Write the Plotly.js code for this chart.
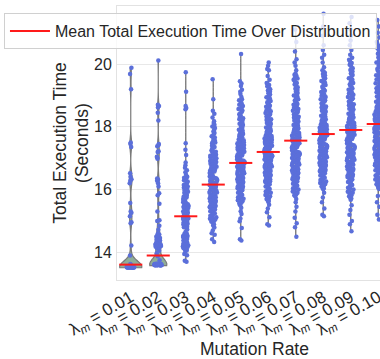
<!DOCTYPE html>
<html><head><meta charset="utf-8">
<script src="https://cdn.plot.ly/plotly-3.0.1.min.js"></script>
<style>html,body{margin:0;padding:0;overflow:hidden;background:#fff;width:380px;height:359px}</style>
</head><body><div id="chart" style="width:393px;height:359px"></div>
<script>
const categories = ['0.01','0.02','0.03','0.04','0.05','0.06','0.07','0.08','0.09','0.10'];
const tickLabels = categories.map(c => 'λ<sub><i>m</i></sub> = ' + c);
const meanTimes = [13.61, 13.90, 15.15, 16.16, 16.85, 17.20, 17.56, 17.77, 17.90, 18.09];

const t001 = [13.52,13.53,13.51,13.54,13.53,13.52,13.55,13.53,13.54,13.52,13.56,13.53,13.54,13.52,13.53,13.55,13.54,13.53,13.52,13.57,13.53,13.54,13.55,13.52,13.53,13.54,13.56,13.53,13.52,13.54,13.55,13.53,13.58,13.6,13.63,13.9,14.22,14.93,14.96,15.15,15.26,15.3,15.57,16.2,16.28,16.33,16.41,16.52,17.36,17.46,17.5,19.2,19.68,19.88];
const t002 = [13.6,13.61,13.59,13.62,13.6,13.63,13.61,13.6,13.62,13.59,13.61,13.64,13.6,13.62,13.61,13.6,13.63,13.58,13.61,13.62,13.6,13.61,13.62,13.59,13.6,13.63,13.61,13.62,13.6,13.61,13.59,13.62,13.6,13.61,13.63,13.6,13.62,13.61,13.6,13.62,13.64,13.61,13.6,13.62,13.61,13.75,13.88,13.97,14.05,14.12,14.15,14.14,14.18,14.2,14.22,14.25,14.24,14.28,14.3,14.33,14.35,14.38,14.4,14.42,14.46,14.5,14.53,14.57,14.6,14.72,14.85,15.0,15.02,15.3,15.55,15.82,15.88,16.1,16.2,16.28,16.32,16.35,16.98,17.02,17.05,17.2,17.22,17.38,17.42,17.45,18.2,18.45,18.62,18.66,18.7,20.11];
const t003 = [13.7,13.73,13.91,13.95,14.04,14.07,14.11,14.13,14.16,14.19,14.21,14.25,14.27,14.3,14.32,14.36,14.39,14.4,14.43,14.47,14.49,14.52,14.56,14.58,14.6,14.65,14.73,14.8,14.82,14.87,14.89,14.91,14.95,14.98,15.01,15.04,15.06,15.1,15.12,15.15,15.19,15.21,15.24,15.28,15.3,15.34,15.37,15.39,15.43,15.45,15.49,15.52,15.55,15.6,15.62,15.66,15.7,15.73,15.77,15.8,15.85,15.89,15.93,15.97,16.02,16.06,16.1,16.15,16.19,16.24,16.3,16.35,16.41,16.47,16.55,16.62,16.7,16.78,16.86,17.1,17.27,17.48,18.56,18.6,18.66,19.12,19.74,
  14.06,14.1,14.14,14.18,14.23,14.28,14.34,14.38,14.45,14.5,14.54,14.59,14.84,14.9,14.94,15.0,15.08,15.13,15.17,15.23,15.27,15.32,15.41,15.47,15.53,15.58,15.64,15.68,15.75,15.83,15.91,15.99,16.08,16.17,16.26,16.38];
const t004 = [14.33,14.42,14.56,14.61,14.7,14.79,14.86,14.9,14.95,14.98,15.03,15.07,15.1,15.14,15.17,15.2,15.24,15.27,15.31,15.33,15.37,15.4,15.44,15.47,15.5,15.53,15.57,15.6,15.63,15.66,15.7,15.72,15.76,15.79,15.82,15.86,15.88,15.92,15.95,15.99,16.02,16.05,16.09,16.12,16.15,16.19,16.22,16.26,16.29,16.33,16.36,16.4,16.44,16.47,16.51,16.55,16.6,16.64,16.68,16.73,16.78,16.82,16.88,16.93,16.99,17.05,17.11,17.18,17.25,17.32,17.4,17.48,17.57,17.66,17.75,17.85,17.96,18.07,18.18,18.3,18.42,18.51,18.88,19.52,
  15.0,15.12,15.22,15.29,15.35,15.42,15.49,15.55,15.61,15.68,15.74,15.8,15.84,15.9,15.97,16.0,16.07,16.1,16.17,16.21,16.24,16.31,16.38,16.42,16.49,16.53,16.58,16.62,16.7,16.75,16.8,16.86,16.91,16.96,17.02,17.08,17.14,17.21,17.29,17.36,17.44,17.52,17.61,17.7,17.8,17.9,18.01,18.12,15.05,15.46,15.91,16.35,16.66,17.0,17.5];
const t005 = [14.38,14.42,14.78,14.99,15.08,15.22,15.31,15.42,15.5,15.56,15.6,15.66,15.69,15.74,15.78,15.83,15.86,15.9,15.95,15.98,16.02,16.06,16.09,16.13,16.16,16.2,16.23,16.27,16.3,16.33,16.37,16.4,16.43,16.46,16.5,16.53,16.56,16.6,16.63,16.66,16.7,16.73,16.76,16.8,16.83,16.86,16.9,16.93,16.96,17.0,17.03,17.07,17.1,17.14,17.17,17.21,17.24,17.28,17.32,17.36,17.4,17.44,17.48,17.53,17.57,17.62,17.67,17.72,17.77,17.83,17.88,17.94,18.0,18.06,18.13,18.2,18.27,18.35,18.43,18.52,18.61,18.7,18.79,18.88,18.95,19.05,19.18,19.3,19.45,20.32,
  15.58,15.63,15.71,15.76,15.81,15.88,15.93,16.0,16.04,16.11,16.15,16.18,16.25,16.29,16.35,16.39,16.44,16.48,16.52,16.58,16.61,16.65,16.68,16.72,16.75,16.78,16.82,16.85,16.88,16.92,16.95,16.98,17.02,17.05,17.09,17.12,17.16,17.19,17.23,17.27,17.3,17.34,17.38,17.42,17.46,17.51,17.55,17.6,17.65,17.7,17.75,17.8,17.86,17.91,17.97,18.03,18.1,18.17,18.24,18.31,18.4,18.48,18.57,18.66,18.75,18.85,19.12,19.38];
const t006 = [14.86,14.9,15.12,15.28,15.4,15.52,15.61,15.67,15.72,15.79,15.83,15.9,15.94,15.99,16.05,16.08,16.13,16.17,16.22,16.25,16.3,16.33,16.38,16.41,16.45,16.48,16.52,16.56,16.59,16.63,16.66,16.7,16.72,16.76,16.79,16.82,16.85,16.89,16.91,16.94,16.97,17.01,17.03,17.06,17.09,17.12,17.15,17.18,17.2,17.24,17.27,17.3,17.33,17.36,17.4,17.43,17.46,17.5,17.53,17.57,17.6,17.64,17.67,17.71,17.75,17.79,17.82,17.87,17.91,17.95,18.0,18.04,18.09,18.14,18.19,18.24,18.3,18.35,18.41,18.47,18.53,18.6,18.67,18.74,18.82,18.9,18.98,19.07,19.16,19.25,19.33,19.4,19.5,19.62,19.8,19.84,19.95,20.05,
  15.64,15.7,15.76,15.86,15.92,15.97,16.02,16.1,16.15,16.2,16.27,16.32,16.36,16.43,16.46,16.5,16.54,16.61,16.65,16.68,16.74,16.78,16.81,16.87,16.93,16.96,16.99,17.02,17.05,17.08,17.11,17.14,17.17,17.22,17.25,17.29,17.32,17.35,17.38,17.42,17.45,17.48,17.52,17.55,17.59,17.62,17.66,17.69,17.73,17.77,17.81,17.85,17.89,17.93,17.98,18.02,18.07,18.12,18.17,18.22,18.27,18.33,18.38,18.44,18.5,18.57,18.64,18.71,18.78,18.86,18.94,19.03,19.12,19.2,19.29,19.37];
const t007 = [14.5,14.8,14.93,15.1,15.3,15.45,15.6,15.7,15.79,15.85,15.9,15.97,16.02,16.06,16.12,16.16,16.21,16.26,16.3,16.35,16.39,16.43,16.47,16.52,16.55,16.59,16.63,16.67,16.7,16.74,16.78,16.81,16.85,16.88,16.92,16.95,16.99,17.02,17.06,17.09,17.13,17.16,17.19,17.23,17.26,17.29,17.33,17.36,17.39,17.43,17.46,17.5,17.53,17.57,17.6,17.63,17.67,17.7,17.74,17.78,17.81,17.85,17.89,17.93,17.97,18.01,18.06,18.1,18.14,18.19,18.24,18.29,18.34,18.39,18.45,18.51,18.57,18.63,18.7,18.77,18.84,18.92,19.0,19.08,19.17,19.26,19.35,19.45,19.54,19.62,19.7,19.8,19.95,20.05,20.15,20.4,20.7,21.1,
  15.82,15.88,15.94,16.0,16.04,16.09,16.14,16.19,16.24,16.28,16.33,16.37,16.41,16.45,16.5,16.54,16.57,16.61,16.65,16.69,16.72,16.76,16.8,16.83,16.87,16.9,16.94,16.97,17.01,17.04,17.08,17.11,17.15,17.18,17.21,17.25,17.28,17.31,17.35,17.38,17.41,17.45,17.48,17.52,17.55,17.59,17.62,17.65,17.69,17.72,17.76,17.8,17.83,17.87,17.91,17.95,17.99,18.04,18.08,18.12,18.17,18.22,18.27,18.32,18.37,18.42,18.48,18.54,18.6,18.66,18.73,18.8,18.88,18.96,19.04,19.12,19.21,19.3,19.4,19.5,19.58,19.66];
const t008 = [15.15,15.2,15.4,15.6,15.75,15.9,16.01,16.07,16.13,16.18,16.24,16.29,16.34,16.38,16.43,16.47,16.52,16.56,16.6,16.64,16.68,16.72,16.76,16.8,16.83,16.87,16.9,16.94,16.97,17.01,17.04,17.08,17.11,17.15,17.18,17.22,17.25,17.29,17.32,17.36,17.39,17.43,17.46,17.5,17.53,17.57,17.6,17.64,17.67,17.71,17.74,17.78,17.81,17.85,17.88,17.92,17.96,18.0,18.04,18.08,18.12,18.16,18.21,18.25,18.3,18.35,18.4,18.45,18.51,18.56,18.62,18.68,18.74,18.81,18.88,18.95,19.03,19.11,19.19,19.28,19.37,19.46,19.55,19.64,19.72,19.8,19.9,20.05,20.2,20.3,20.45,20.6,20.9,21.2,21.6,
  16.04,16.1,16.16,16.21,16.26,16.31,16.36,16.41,16.45,16.5,16.54,16.58,16.62,16.66,16.7,16.74,16.78,16.81,16.85,16.89,16.92,16.95,16.99,17.03,17.06,17.1,17.13,17.17,17.2,17.24,17.27,17.31,17.34,17.38,17.41,17.45,17.48,17.52,17.55,17.59,17.62,17.66,17.69,17.73,17.76,17.8,17.83,17.87,17.9,17.94,17.98,18.02,18.06,18.1,18.14,18.19,18.23,18.28,18.33,18.38,18.43,18.48,18.54,18.59,18.65,18.71,18.78,18.85,18.92,18.99,19.07,19.15,19.24,19.33,19.42,19.51,19.6,19.68,19.76];
const t009 = [14.67,14.9,15.0,15.2,15.35,15.5,15.68,15.75,15.82,15.9,15.96,16.03,16.09,16.15,16.21,16.27,16.32,16.38,16.43,16.48,16.53,16.58,16.63,16.67,16.72,16.76,16.81,16.85,16.89,16.93,16.97,17.01,17.05,17.09,17.13,17.17,17.21,17.25,17.29,17.33,17.37,17.41,17.45,17.49,17.53,17.57,17.61,17.65,17.69,17.73,17.77,17.81,17.85,17.89,17.93,17.97,18.01,18.05,18.1,18.14,18.18,18.23,18.27,18.32,18.37,18.42,18.47,18.52,18.58,18.63,18.69,18.75,18.81,18.88,18.95,19.02,19.1,19.18,19.27,19.36,19.45,19.55,19.65,19.76,19.87,19.98,20.09,20.2,20.3,20.45,20.6,20.75,20.9,21.1,21.3,21.5,
  15.72,15.79,15.86,15.93,16.0,16.06,16.12,16.18,16.24,16.3,16.35,16.4,16.46,16.51,16.56,16.6,16.65,16.7,16.74,16.79,16.83,16.87,16.91,16.95,16.99,17.03,17.07,17.11,17.15,17.19,17.23,17.27,17.31,17.35,17.39,17.43,17.47,17.51,17.55,17.59,17.63,17.67,17.71,17.75,17.79,17.83,17.87,17.91,17.95,17.99,18.03,18.08,18.12,18.16,18.2,18.25,18.3,18.34,18.39,18.44,18.5,18.55,18.6,18.66,18.72,18.78,18.85,18.91,18.98,19.06,19.14,19.22,19.31,19.4,19.5,19.6,19.7,19.81,19.92,20.03,20.14];
const t010 = [15.05,15.2,15.45,15.6,15.8,16.02,16.1,16.17,16.25,16.32,16.38,16.45,16.51,16.57,16.62,16.68,16.73,16.78,16.83,16.88,16.93,16.97,17.02,17.06,17.11,17.15,17.19,17.23,17.27,17.31,17.35,17.39,17.43,17.47,17.51,17.55,17.59,17.63,17.67,17.71,17.75,17.79,17.83,17.87,17.91,17.95,17.99,18.03,18.07,18.11,18.15,18.19,18.23,18.27,18.31,18.35,18.4,18.44,18.48,18.53,18.57,18.62,18.67,18.72,18.77,18.82,18.88,18.94,19.0,19.06,19.13,19.2,19.27,19.35,19.43,19.51,19.6,19.69,19.79,19.89,19.99,20.1,20.21,20.33,20.45,20.57,20.7,20.85,21.0,21.2,21.4,
  16.06,16.14,16.21,16.28,16.35,16.41,16.48,16.54,16.6,16.65,16.7,16.75,16.8,16.85,16.9,16.95,17.0,17.04,17.08,17.13,17.17,17.21,17.25,17.29,17.33,17.37,17.41,17.45,17.49,17.53,17.57,17.61,17.65,17.69,17.73,17.77,17.81,17.85,17.89,17.93,17.97,18.01,18.05,18.09,18.13,18.17,18.21,18.25,18.29,18.33,18.37,18.42,18.46,18.5,18.55,18.6,18.64,18.69,18.74,18.8,18.85,18.91,18.97,19.03,19.1,19.16,19.23,19.31,19.39,19.47,19.55,19.64,19.74,19.84,19.94,20.05,20.16,20.27,20.39,20.51,20.63];

const series = [t001,t002,t003,t004,t005,t006,t007,t008,t009,t010];

const FONT = 'Liberation Sans, Arial, Helvetica, sans-serif';
const POINT_COLOR = '#5b6fda';
const traces = [];

// violin outlines (drawn first, under the points)
series.forEach((arr, i) => {
  const wide = i < 2;
  traces.push({
    type: 'violin', x: arr.map(() => i), y: arr,
    width: i === 0 ? 0.8 : (i === 1 ? 0.62 : 0.05),
    scalemode: 'width', spanmode: 'hard',
    bandwidth: wide ? 0.18 : undefined,
    points: false,
    fillcolor: wide ? '#8fae99' : '#8c8c8c',
    line: {color: '#7a7a7a', width: wide ? 1.2 : 1},
    showlegend: false, hoverinfo: 'skip'
  });
});

// strip points
series.forEach((arr, i) => {
  traces.push({
    type: 'violin', x: arr.map(() => i), y: arr,
    width: 0.8, scalemode: 'width', spanmode: 'hard',
    points: 'all', pointpos: 0, jitter: i === 2 ? 0.27 : 0.36,
    marker: {size: 4.5, color: POINT_COLOR, line: {width: 0}},
    fillcolor: 'rgba(0,0,0,0)', line: {color: 'rgba(0,0,0,0)', width: 0},
    showlegend: false, hoverinfo: 'skip'
  });
});

const mx = [], my = [];
meanTimes.forEach((m, i) => { mx.push(i - 0.42, i + 0.42, null); my.push(m, m, null); });
traces.push({
  type: 'scatter', mode: 'lines', x: mx, y: my,
  line: {color: '#ff1a1a', width: 2},
  name: 'Mean Total Execution Time Over Distribution', showlegend: true, hoverinfo: 'skip'
});

const layout = {
  width: 393, height: 359,
  margin: {l: 117, r: 1, t: 6, b: 79},
  paper_bgcolor: '#ffffff', plot_bgcolor: '#ffffff',
  font: {family: FONT, color: '#262626'},
  showlegend: true, violinmode: 'overlay',
  xaxis: {
    range: [-0.5, 9.5], tickmode: 'array', tickvals: categories.map((c, i) => i), ticktext: tickLabels,
    tickangle: -30, tickfont: {size: 17, color: '#262626'},
    showgrid: false, zeroline: false, showline: true, mirror: true, linecolor: '#e2e2e2', linewidth: 1,
    ticks: '', automargin: false,
    title: {text: 'Mutation Rate', font: {size: 17.5, color: '#262626'}, standoff: 6}
  },
  yaxis: {
    range: [13.12, 21.85], tickmode: 'array', tickvals: [14, 16, 18, 20], ticktext: ['14', '16', '18', '20'],
    tickfont: {size: 16, color: '#262626'},
    showgrid: true, gridcolor: '#e8e8e8', gridwidth: 1, zeroline: false,
    showline: true, mirror: true, linecolor: '#e2e2e2', linewidth: 1,
    ticks: 'outside', ticklen: 1, tickcolor: 'rgba(0,0,0,0)', automargin: false,
    title: {text: 'Total Execution Time<br>(Seconds)', font: {size: 17.5, color: '#262626'}, standoff: 0}
  },
  legend: {
    x: -0.411, y: 0.9745, xanchor: 'left', yanchor: 'top',
    bgcolor: 'rgba(255,255,255,0.8)', bordercolor: '#d0d0d0', borderwidth: 1,
    font: {size: 16, color: '#262626'}, itemwidth: 40
  }
};

Plotly.newPlot('chart', traces, layout, {staticPlot: true, displayModeBar: false});
</script></body></html>
